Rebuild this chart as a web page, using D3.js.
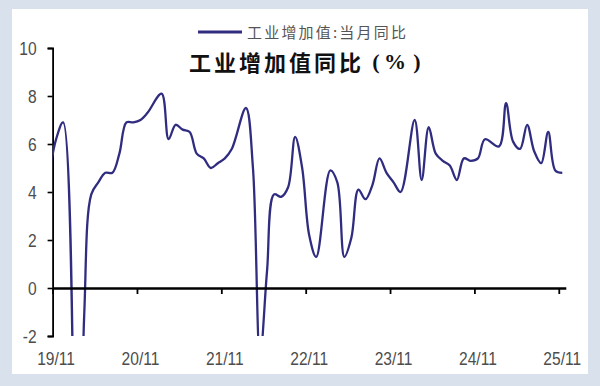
<!DOCTYPE html>
<html><head><meta charset="utf-8">
<script src="https://cdn.jsdelivr.net/npm/d3@7/dist/d3.min.js"></script>
<style>html,body{margin:0;padding:0;background:#d9e1ec;} svg{display:block}</style>
</head><body><svg id="c" width="600" height="386"></svg>
<script>
// ---- data ----
const seriesName = "工业增加值:当月同比";
const chartTitle = "工业增加值同比";
const titleParts = ["(", "%", ")"];
const tickLabels = ["19/11","20/11","21/11","22/11","23/11","24/11","25/11"];
const yTicks = [-2, 0, 2, 4, 6, 8, 10];
// monthly values from 2019-10 to 2025-11 (January not published -> null)
const v2019 = [4.7, 6.2, 6.9];                                            // Oct-Dec
const v2020 = [null, -13.5, -1.1, 3.9, 4.4, 4.8, 4.8, 5.6, 6.9, 6.9, 7.0, 7.3];
const v2021 = [null, 8.1, 6.2, 6.8, 6.6, 6.5, 5.6, 5.4, 5.0, 5.2, 5.4, 5.8];
const v2022 = [null, 7.5, 5.0, -2.9, 0.7, 3.9, 3.8, 4.2, 6.3, 5.0, 2.2, 1.3];
const v2023 = [null, 4.9, 4.4, 1.3, 2.1, 4.1, 3.7, 4.3, 5.4, 4.8, 4.4, 4.0];
const v2024 = [null, 7.0, 4.5, 6.7, 5.6, 5.3, 5.1, 4.5, 5.4, 5.3, 5.4, 6.2];
const v2025 = [null, 5.9, 7.7, 6.1, 5.8, 6.8, 5.7, 5.2, 6.5, 4.9, 4.8];     // Jan-Nov

const values = [].concat(v2019, v2020, v2021, v2022, v2023, v2024, v2025);
// month offset relative to 2019-11 (tick origin)
const data = values.map((v, k) => ({i: k - 1, v}));

// ---- layout ----
const svg = d3.select("#c");
svg.append("rect").attr("x", 12).attr("y", 9).attr("width", 576).attr("height", 365).attr("fill", "#ffffff");

const x = d3.scaleLinear().domain([0, 73]).range([52.6, 565.8]);
const y = d3.scaleLinear().domain([-2, 10]).range([336, 48]);

const sans = "'Liberation Sans',Arial,sans-serif";
const squeeze = 0.82;

// clip
svg.append("clipPath").attr("id", "clip").append("rect")
  .attr("x", x.range()[0]).attr("y", y(10)).attr("width", x.range()[1] - x.range()[0]).attr("height", y(-2) - y(10));

// y axis
const yAxis = svg.append("g").attr("transform", `translate(${x.range()[0]},0)`)
  .call(d3.axisLeft(y).tickValues(yTicks).tickSize(5).tickSizeOuter(5).tickPadding(11).tickFormat(d => String(d)));
yAxis.select(".domain").attr("stroke", "#000").attr("stroke-width", 1.8);
yAxis.selectAll(".tick line").attr("stroke", "#000").attr("stroke-width", 1.6);
yAxis.selectAll("text").attr("font-family", sans).attr("font-size", 19).attr("fill", "#4d4d4d")
  .attr("x", 0).attr("transform", `translate(-16,0) scale(${squeeze},1)`);

// line
const line = d3.line().x(d => x(d.i + 0.5)).y(d => y(d.v)).curve(d3.curveCatmullRom.alpha(0.5));
svg.append("path").datum(data.filter(d => d.v !== null))
  .attr("clip-path", "url(#clip)")
  .attr("fill", "none").attr("stroke", "#302d80").attr("stroke-width", 2.3)
  .attr("stroke-linejoin", "round").attr("d", line);

// x axis at 0
const xAxis = svg.append("g").attr("transform", `translate(0,${y(0)})`)
  .call(d3.axisBottom(x).tickValues(d3.range(0, 73, 12)).tickSize(6).tickSizeOuter(0).tickPadding(58)
    .tickFormat((d, k) => tickLabels[k]));
xAxis.select(".domain").attr("stroke", "#000").attr("stroke-width", 2.6);
xAxis.selectAll(".tick line").attr("stroke", "#000").attr("stroke-width", 1.8);
xAxis.selectAll("text").attr("font-family", sans).attr("font-size", 19).attr("fill", "#4d4d4d")
  .attr("transform", `translate(3,0) scale(${squeeze},1)`);

// legend
svg.append("line").attr("x1", 198).attr("x2", 242).attr("y1", 32).attr("y2", 32)
  .attr("stroke", "#302d80").attr("stroke-width", 3.2);
svg.append("text").attr("x", 247).attr("y", 37.5).attr("font-family", "'Noto Sans CJK SC',sans-serif")
  .attr("font-size", 15).attr("letter-spacing", 2.2).attr("fill", "#555").text(seriesName);

// title
svg.append("text").attr("x", 189).attr("y", 71).attr("font-family", "'Noto Sans CJK SC',sans-serif")
  .attr("font-size", 22).attr("font-weight", 700).attr("letter-spacing", 3).attr("fill", "#111").text(chartTitle);
const partX = [376, 395, 417];
titleParts.forEach((p, k) => {
  svg.append("text").attr("x", partX[k]).attr("y", 69).attr("text-anchor", "middle")
    .attr("font-family", "'Liberation Serif',serif").attr("font-size", 22).attr("font-weight", 700)
    .attr("fill", "#111").text(p);
});
</script></body></html>
